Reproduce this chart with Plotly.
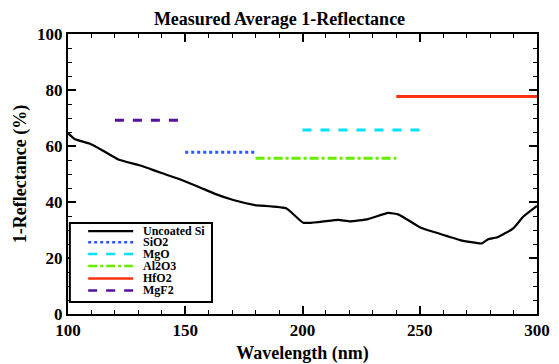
import plotly.graph_objects as go

# Uncoated Si curve
si_wl = [100, 103, 109.4, 115, 121.5, 130.5, 139, 149, 156.3, 162.7, 170.5, 179.7, 193.2,
         200.3, 207.5, 215.3, 220.3, 228, 236.6, 241, 250.5, 257.2, 267.2, 276.4, 279.2,
         282.8, 289.9, 294.2, 300]
si_val = [64.6, 62.4, 60.8, 58.3, 55.2, 53.1, 50.6, 47.7, 45.2, 42.9, 40.7, 38.9, 37.7,
          32.6, 32.9, 33.6, 33.1, 33.9, 36.1, 35.5, 30.8, 29.0, 26.4, 25.2, 26.7,
          27.3, 30.6, 34.8, 38.6]

# Coatings: wavelength range and average value
coat_names = ["SiO2", "MgO", "Al2O3", "HfO2", "MgF2"]
coat_start = [150, 200, 180, 240, 120]
coat_end = [180, 250, 240, 300, 150]
coat_val = [57.8, 65.7, 55.6, 77.7, 69.2]
coat_colors = ["#2a55ff", "#00e0ff", "#66ee00", "#ff3010", "#55109e"]
coat_dash = ["dot", "dash", "dashdot", "solid", "dash"]

font = "Liberation Serif"

fig = go.Figure()
fig.add_trace(go.Scatter(x=si_wl, y=si_val, mode="lines", name="Uncoated Si", showlegend=False,
                         line=dict(color="black", width=2.2, shape="spline", smoothing=0.4)))
for n, s, e, v, c, d in zip(coat_names, coat_start, coat_end, coat_val, coat_colors, coat_dash):
    fig.add_trace(go.Scatter(x=[s, e], y=[v, v], mode="lines", name=n, showlegend=False,
                             line=dict(color=c, width=3, dash=d)))

# Manual compact legend (paper coordinates)
leg_names = ["Uncoated Si"] + coat_names
leg_colors = ["black"] + coat_colors
leg_dash = ["solid"] + coat_dash
leg_widths = [2.2] + [2.5] * 5
shapes = [dict(type="rect", xref="paper", yref="paper", x0=0.004, x1=0.307, y0=0.043, y1=0.325,
               line=dict(color="black", width=2), fillcolor="white", layer="above")]
annotations = []
row_y = [0.296, 0.256, 0.214, 0.171, 0.127, 0.084]
for ry, n, c, d, w in zip(row_y, leg_names, leg_colors, leg_dash, leg_widths):
    shapes.append(dict(type="line", xref="paper", yref="paper", x0=0.043, x1=0.139, y0=ry, y1=ry,
                       line=dict(color=c, width=w, dash=d), layer="above"))
    annotations.append(dict(xref="paper", yref="paper", x=0.158, y=ry, xanchor="left",
                            yanchor="middle", text=n, showarrow=False, borderpad=0,
                            font=dict(family=font, size=12, color="black", weight="bold")))

axis_common = dict(showline=True, linecolor="black", linewidth=2, mirror="allticks",
                   ticks="inside", ticklen=8, tickwidth=1.5, tickcolor="black",
                   showgrid=False, zeroline=False, automargin=False,
                   tickfont=dict(family=font, size=17, color="black", weight="bold"))

fig.update_layout(
    width=559, height=364,
    margin=dict(l=68, r=22, t=34, b=50),
    paper_bgcolor="white", plot_bgcolor="white",
    title=dict(text="Measured Average 1-Reflectance", x=0.5, xanchor="center",
               y=0.95, yanchor="middle",
               font=dict(family=font, size=18, color="black", weight="bold")),
    xaxis=dict(range=[100, 300], tick0=100, dtick=50,
               minor=dict(dtick=10, ticklen=4, ticks="inside", tickcolor="black", tickwidth=1.2),
               title=dict(text="Wavelength (nm)", standoff=10,
                          font=dict(family=font, size=18, color="black", weight="bold")),
               **axis_common),
    yaxis=dict(range=[0, 100], tick0=0, dtick=20,
               minor=dict(dtick=5, ticklen=4, ticks="inside", tickcolor="black", tickwidth=1.2),
               title=dict(text="1-Reflectance (%)", standoff=6,
                          font=dict(family=font, size=18, color="black", weight="bold")),
               **axis_common),
    shapes=shapes,
    annotations=annotations,
    showlegend=False,
)

fig.write_html("out.html")
